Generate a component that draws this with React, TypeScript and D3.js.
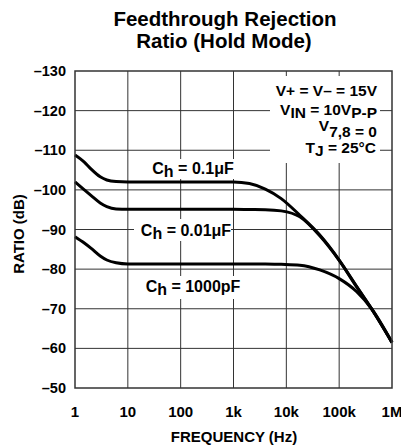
import React from "react";
import * as d3 from "d3";

const freqs = [1, 1.5, 2, 3, 4, 6, 10, 100, 1000, 2000, 4000, 8000, 18000, 43000, 100000, 215000, 410000, 1000000];
const ch01uF = [-108.8, -107, -105.3, -103.3, -102.5, -102.1, -102, -102, -102, -101.6, -100.2, -97.8, -93.6, -88.6, -82.3, -75.6, -70, -61.5];
const ch001uF = [-102, -100, -98.6, -96.7, -95.8, -95.2, -95.1, -95.1, -95.1, -95.05, -95, -94.7, -93.2, -88.4, -82.2, -75.5, -70, -61.5];
const ch1000pF = [-88.2, -86.6, -85.3, -83.3, -82.3, -81.6, -81.3, -81.3, -81.3, -81.3, -81.3, -81.2, -81, -79.8, -77.6, -74.3, -70, -61.5];

const xTicks = [1, 10, 100, 1000, 10000, 100000, 1000000];
const xTickLabels = ["1", "10", "100", "1k", "10k", "100k", "1M"];
const yTicks = [-130, -120, -110, -100, -90, -80, -70, -60, -50];
const yTickLabels = ["\u2013130", "\u2013120", "\u2013110", "\u2013100", "\u201390", "\u201380", "\u201370", "\u201360", "\u201350"];

const W = 401, H = 446;
const L = 75, R = 392, T = 71, B = 388;
const font = "'Liberation Sans', Arial, sans-serif";

export default function App() {
  const x = d3.scaleLog().domain([1, 1e6]).range([L, R]);
  const y = d3.scaleLinear().domain([-130, -50]).range([T, B]);
  const line = d3.line<number>().x((_, i) => x(freqs[i])).y((d) => y(d)).curve(d3.curveMonotoneX);
  const series = [ch01uF, ch001uF, ch1000pF];
  const grid = "#333";
  const lf = 15.5;
  return (
    <svg width={W} height={H} style={{ position: "absolute", left: 0, top: 0, background: "#fff" }} fontFamily={font} fontWeight="bold">
      {/* title */}
      <text x={225} y={25.5} textAnchor="middle" fontSize={20.5}>Feedthrough Rejection</text>
      <text x={224} y={47.5} textAnchor="middle" fontSize={20.5}>Ratio (Hold Mode)</text>
      {/* grid */}
      {xTicks.slice(1, -1).map((t) => (
        <line key={"gx" + t} x1={x(t)} x2={x(t)} y1={T} y2={B} stroke={grid} strokeWidth={1} />
      ))}
      {yTicks.slice(1, -1).map((t) => (
        <line key={"gy" + t} x1={L} x2={R} y1={y(t)} y2={y(t)} stroke={grid} strokeWidth={1} />
      ))}
      {/* white backgrounds */}
      <rect x={270} y={76} width={110} height={87} fill="#fff" />
      <rect x={150} y={159} width={86} height={20} fill="#fff" />
      <rect x={134} y={219} width={97} height={22} fill="#fff" />
      <rect x={143} y={276} width={100} height={23} fill="#fff" />
      {/* curves */}
      {series.map((s, i) => (
        <path key={"s" + i} d={line(s) || ""} fill="none" stroke="#000" strokeWidth={3} />
      ))}
      {/* frame */}
      <rect x={L} y={T} width={R - L} height={B - T} fill="none" stroke={grid} strokeWidth={1.5} />
      {/* y ticks */}
      {yTicks.map((t, i) => (
        <text key={"yt" + t} x={66} y={y(t) + 5} textAnchor="end" fontSize={14.5}>{yTickLabels[i]}</text>
      ))}
      {xTicks.map((t, i) => (
        <text key={"xt" + t} x={x(t)} y={417} textAnchor="middle" fontSize={15}>{xTickLabels[i]}</text>
      ))}
      <text x={234} y={442} textAnchor="middle" fontSize={15}>FREQUENCY (Hz)</text>
      <text transform={`translate(24,${234}) rotate(-90)`} textAnchor="middle" fontSize={15}>RATIO (dB)</text>
      {/* conditions */}
      <text x={377} y={96} textAnchor="end" fontSize={lf}>V+ = V{"\u2013"} = 15V</text>
      <text x={377} y={115} textAnchor="end" fontSize={lf}>
        V<tspan dy={3}>IN</tspan><tspan dy={-3}> = 10V</tspan><tspan dy={3}>P-P</tspan>
      </text>
      <text x={377} y={137} textAnchor="end" fontSize={lf}>
        <tspan dy={-6}>V</tspan><tspan dy={6}>7,8 = 0</tspan>
      </text>
      <text x={376} y={153} textAnchor="end" fontSize={lf}>
        T<tspan dy={3}>J</tspan><tspan dy={-3}> = 25{"\u00B0"}C</tspan>
      </text>
      {/* curve labels */}
      <text x={193} y={174} textAnchor="middle" fontSize={16}>
        C<tspan dy={3}>h</tspan><tspan dy={-3}> = 0.1{"\u03BC"}F</tspan>
      </text>
      <text x={186} y={236} textAnchor="middle" fontSize={16}>
        C<tspan dy={3}>h</tspan><tspan dy={-3}> = 0.01{"\u03BC"}F</tspan>
      </text>
      <text x={193} y={292} textAnchor="middle" fontSize={16}>
        C<tspan dy={3}>h</tspan><tspan dy={-3}> = 1000pF</tspan>
      </text>
    </svg>
  );
}
